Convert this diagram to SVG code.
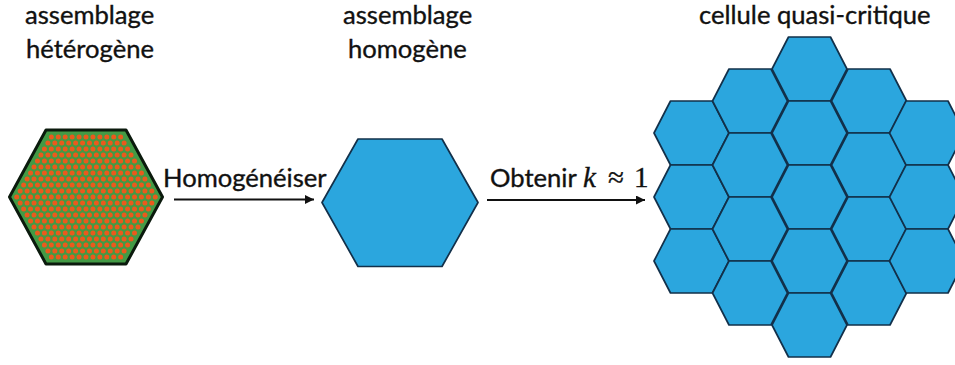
<svg xmlns="http://www.w3.org/2000/svg" width="955" height="365" viewBox="0 0 955 365">
<style>
text{font-family:"Lato","Open Sans","Liberation Sans",sans-serif;font-size:25.6px;fill:#111;stroke:#111;stroke-width:.35}
.m{font-family:"Liberation Serif",serif;font-size:29px}
.hex{fill:#2ba6de;stroke:#12304a;stroke-width:1.7;stroke-linejoin:round}
.pin{stroke:#ea5a1c;stroke-width:5;stroke-linecap:round;stroke-dasharray:0 6.93;fill:none}
.arrow{stroke:#111;stroke-width:2;fill:none;marker-end:url(#head)}
</style>
<defs>
<marker id="head" markerUnits="userSpaceOnUse" markerWidth="10" markerHeight="10" refX="9" refY="4.5" orient="auto"><path d="M0 0L9 4.5L0 9Z" fill="#111"/></marker>
<polygon id="cell" class="hex" points="-37.5,0 -21,-32 21,-32 37.5,0 21,32 -21,32"/>
</defs>
<rect width="955" height="365" fill="#fff"/>
<g id="label-heterogene"><text x="25" y="24">assemblage</text><text x="26" y="58">hétérogène</text></g>
<g id="assemblage-heterogene">
<polygon points="9.5,197 46,130 126,130 162.5,197 126,264 46,264" fill="#439a45" stroke="#0b1a0d" stroke-width="3" stroke-linejoin="round"/>
<g class="pins">
<line class="pin" x1="51.35" x2="120.75" y1="137" y2="137"/>
<line class="pin" x1="47.89" x2="124.21" y1="143" y2="143"/>
<line class="pin" x1="44.42" x2="127.68" y1="149" y2="149"/>
<line class="pin" x1="40.96" x2="131.14" y1="155" y2="155"/>
<line class="pin" x1="37.49" x2="134.61" y1="161" y2="161"/>
<line class="pin" x1="34.03" x2="138.07" y1="167" y2="167"/>
<line class="pin" x1="30.56" x2="141.54" y1="173" y2="173"/>
<line class="pin" x1="27.1" x2="145" y1="179" y2="179"/>
<line class="pin" x1="23.63" x2="148.47" y1="185" y2="185"/>
<line class="pin" x1="20.17" x2="151.93" y1="191" y2="191"/>
<line class="pin" x1="16.7" x2="155.4" y1="197" y2="197"/>
<line class="pin" x1="20.17" x2="151.93" y1="203" y2="203"/>
<line class="pin" x1="23.63" x2="148.47" y1="209" y2="209"/>
<line class="pin" x1="27.1" x2="145" y1="215" y2="215"/>
<line class="pin" x1="30.56" x2="141.54" y1="221" y2="221"/>
<line class="pin" x1="34.03" x2="138.07" y1="227" y2="227"/>
<line class="pin" x1="37.49" x2="134.61" y1="233" y2="233"/>
<line class="pin" x1="40.96" x2="131.14" y1="239" y2="239"/>
<line class="pin" x1="44.42" x2="127.68" y1="245" y2="245"/>
<line class="pin" x1="47.89" x2="124.21" y1="251" y2="251"/>
<line class="pin" x1="51.35" x2="120.75" y1="257" y2="257"/>
</g>
</g>
<g id="label-homogene"><text x="343" y="24">assemblage</text><text x="348" y="58">homogène</text></g>
<g id="assemblage-homogene"><polygon class="hex" points="322,202.5 358,139 442,139 478,202.5 442,266.5 358,266.5"/></g>
<g id="connectors">
<line class="arrow" x1="174" y1="199.5" x2="314" y2="199.5"/>
<line class="arrow" x1="487" y1="200" x2="645" y2="200"/>
</g>
<g id="label-homogeneiser"><text x="163" y="187">Homogénéiser</text></g>
<g id="label-obtenir"><text x="490" y="187">Obtenir</text><text class="m" x="583" y="187" font-style="italic">k</text><text class="m" x="608" y="187">≈</text><text class="m" x="634" y="187">1</text></g>
<g id="label-cellule"><text x="699" y="24">cellule quasi-critique</text></g>
<g id="cellule-quasi-critique">
<g id="c1"><use href="#cell" x="691.5" y="133"/></g>
<g id="c2"><use href="#cell" x="691.5" y="197"/></g>
<g id="c3"><use href="#cell" x="691.5" y="261"/></g>
<g id="c4"><use href="#cell" x="750" y="101"/></g>
<g id="c5"><use href="#cell" x="750" y="165"/></g>
<g id="c6"><use href="#cell" x="750" y="229"/></g>
<g id="c7"><use href="#cell" x="750" y="293"/></g>
<g id="c8"><use href="#cell" x="809.5" y="69"/></g>
<g id="c9"><use href="#cell" x="809.5" y="133"/></g>
<g id="c10"><use href="#cell" x="809.5" y="197"/></g>
<g id="c11"><use href="#cell" x="809.5" y="261"/></g>
<g id="c12"><use href="#cell" x="809.5" y="325"/></g>
<g id="c13"><use href="#cell" x="869" y="101"/></g>
<g id="c14"><use href="#cell" x="869" y="165"/></g>
<g id="c15"><use href="#cell" x="869" y="229"/></g>
<g id="c16"><use href="#cell" x="869" y="293"/></g>
<g id="c17"><use href="#cell" x="927" y="133"/></g>
<g id="c18"><use href="#cell" x="927" y="197"/></g>
<g id="c19"><use href="#cell" x="927" y="261"/></g>
</g>
</svg>
